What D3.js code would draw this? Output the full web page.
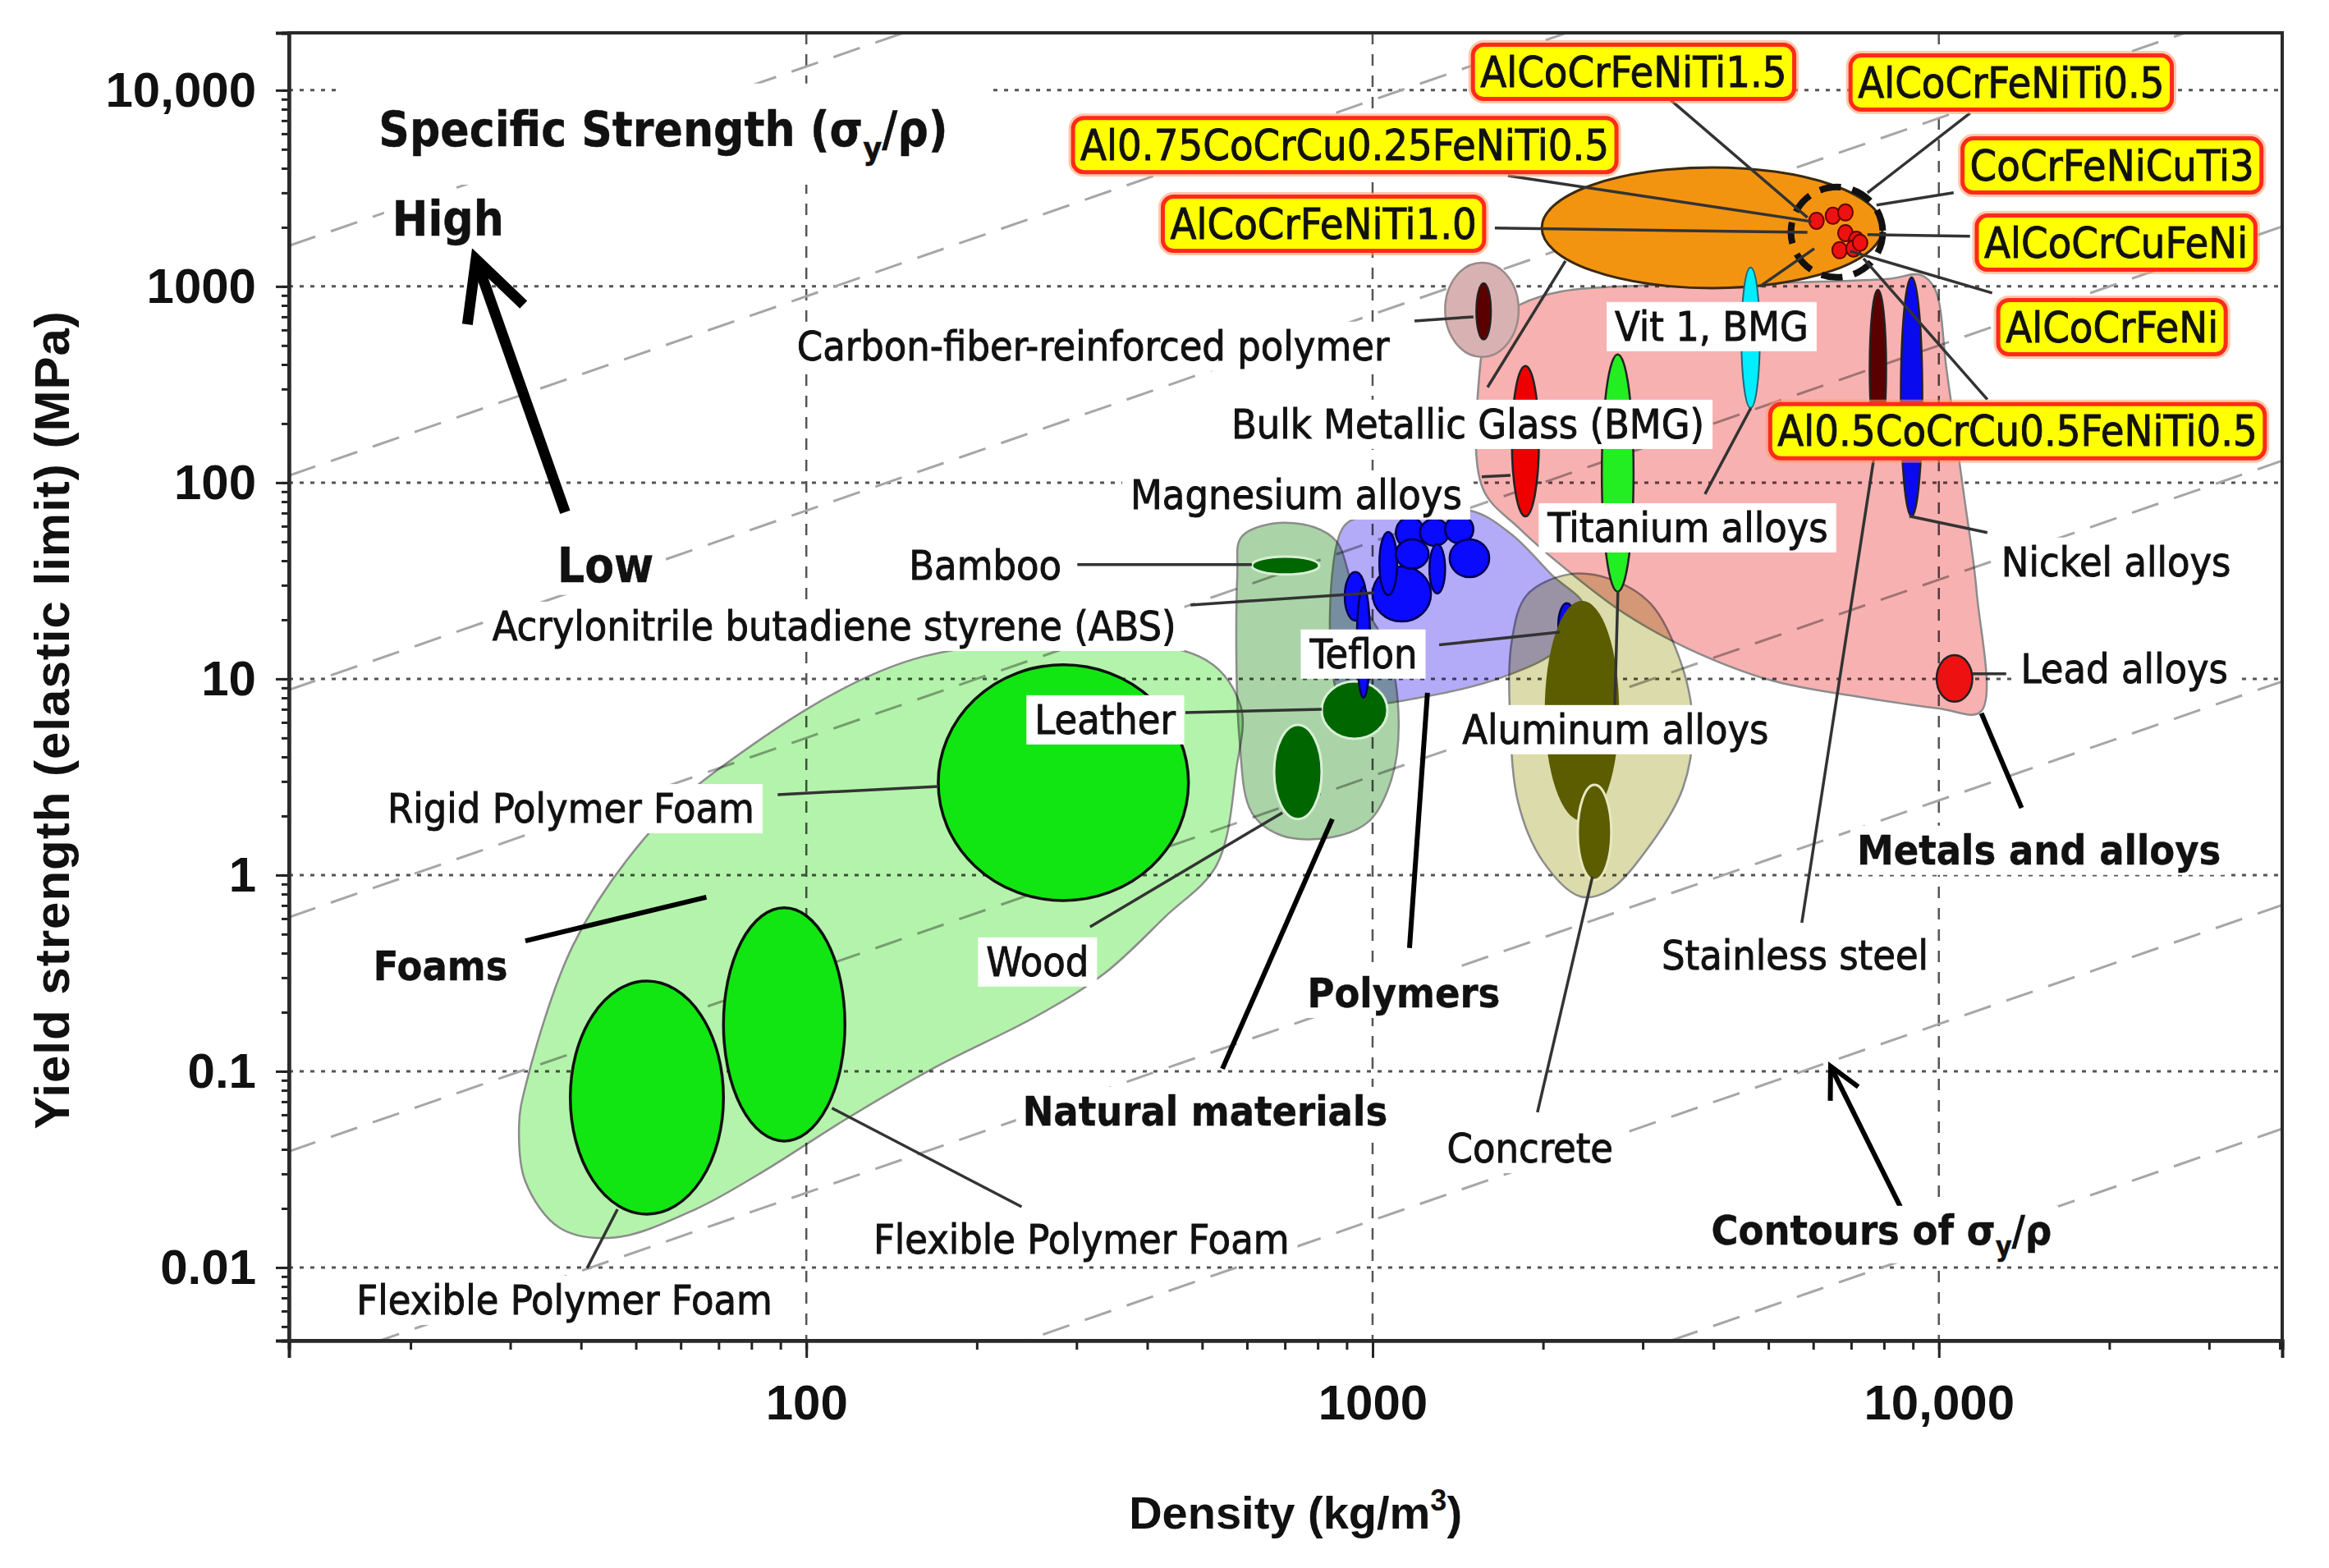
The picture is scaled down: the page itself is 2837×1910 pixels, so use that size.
<!DOCTYPE html>
<html>
<head>
<meta charset="utf-8">
<script src="https://cdn.jsdelivr.net/npm/d3@7"></script>
<style>
  body { margin: 0; background: #fff; }
  text { font-family: "DejaVu Sans Condensed", "DejaVu Sans", sans-serif; fill: #111; }
  .axis text { font-family: "Liberation Sans", Arial, sans-serif; font-weight: bold; fill: #111; }
</style>
</head>
<body>
<div id="chart"></div>
<script>

// ---------------- data (density kg/m3, yield strength MPa) ----------------

var densityDomain = [12.2, 40400];
var strengthDomain = [0.00424, 19600];

var xTickValues = [100, 1000, 10000];
var xTickLabels = ["100", "1000", "10,000"];
var yTickValues = [0.01, 0.1, 1, 10, 100, 1000, 10000];
var yTickLabels = ["0.01", "0.1", "1", "10", "100", "1000", "10,000"];

// sigma_y / rho of the dashed guide lines
var contourValues = [132, 8.9, 0.72, 0.050, 0.0032, 0.00024, 0.0000174, 0.00000126];

// material family envelopes [density, strength]
var foamsEnvelope = [[31.9,0.0834],[38.7,0.437],[51.1,1.47],[68.4,3.30],[161,13.0],[494,13.0],[584,7.35],[574,3.40],
  [530,1.12],[430,0.612],[336,0.315],[255,0.191],[168,0.104],[117,0.0566],[84,0.0309],[63.7,0.0198],
  [45.8,0.0142],[36.7,0.0159],[31.9,0.0275],[31.1,0.0535]];
var naturalEnvelope = [[577,34.0],[586,52.5],[666,61.8],[787,59.4],[864,50.0],[929,28.1],[1062,14.3],[1112,6.00],
  [1079,3.06],[987,1.89],[849,1.56],[691,1.59],[612,2.08],[582,4.95]];
var polymersEnvelope = [[883,57.8],[978,68.1],[1484,72.1],[1751,55.1],[2069,34.0],[2365,23.1],[2138,14.3],
  [1695,10.2],[1255,8.17],[961,7.42],[875,8.01]];
var ceramicEnvelope = [[1762,15.7],[1872,26.7],[2212,34.0],[2614,32.4],[3090,24.3],[3473,13.0],[3675,6.00],
  [3533,2.78],[3090,1.42],[2614,0.834],[2327,0.778],[2001,1.17],[1811,2.29],[1750,6.00]];
var metalsEnvelope = [[1538,312],[1617,635],[1824,809],[2162,944],[2988,1010],[4930,1039],[8130,1091],[9290,1145],
  [9840,971],[10330,367],[11090,84.1],[11660,27.8],[11860,6.81],[10000,7.07],[7110,8.16],[5060,9.82],
  [3600,14.3],[2795,21.4],[2274,33.4],[1824,57.8],[1565,93.6]];

// property bubbles: [name, density min, density max, strength min, strength max]
var foamCells = [
  ["Rigid Polymer Foam", 171, 473, 0.741, 11.8],
  ["Flexible Polymer Foam 1", 38.3, 71.4, 0.0187, 0.288],
  ["Flexible Polymer Foam 2", 71.4, 117, 0.0441, 0.681]
];
var naturalCells = [
  ["Bamboo", 612, 805, 34.0, 42.0],
  ["Leather", 813, 1062, 4.95, 9.70],
  ["Wood", 670, 813, 1.93, 5.83]
];
var polymerCells = [
  ["PE", 1099, 1233, 46.3, 66.7],
  ["PP", 1213, 1364, 47.6, 65.4],
  ["PC", 1343, 1507, 49.0, 68.1],
  ["PS", 1000, 1268, 19.6, 37.4],
  ["ABS", 893, 973, 19.8, 35.0],
  ["PA", 1028, 1105, 26.7, 56.1],
  ["PMMA", 1099, 1256, 36.4, 51.4],
  ["PVC", 1260, 1343, 27.2, 48.5],
  ["POM", 1368, 1607, 33.0, 51.4],
  ["LDPE", 938, 990, 8.01, 29.4],
  ["Teflon", 2128, 2281, 14.6, 24.3]
];
var alloyCells = [
  ["Aluminum alloys", 2014, 2725, 1.89, 25.0],
  ["Concrete", 2303, 2640, 0.944, 2.88],
  ["Magnesium alloys", 1762, 1967, 67.3, 393],
  ["Titanium alloys", 2540, 2890, 27.8, 450],
  ["Stainless steel", 7550, 8070, 151, 962],
  ["Nickel alloys", 8570, 9350, 67.3, 1112],
  ["Lead alloys", 9910, 11460, 7.64, 13.2]
];
var cfrpHalo = ["CFRP range", 1343, 1811, 437, 1322];
var cfrpCell = ["CFRP", 1524, 1619, 535, 1040];
var heaRange = ["High entropy alloys", 1990, 7960, 980, 4040];
var bmgCell = ["Vit 1, BMG", 4480, 4830, 240, 1250];
var heaCluster = ["HEA cluster", 5480, 7960, 1112, 3210];
var heaPoints = [[6080,2160],[6500,2290],[6840,2380],[6840,1870],[7150,1730],[6680,1530],[7070,1560],[7260,1670]];

// annotations: [text, density, strength] at the label centre
var heaLabels = [
  ["AlCoCrFeNiTi1.5", 2890, 12480],
  ["AlCoCrFeNiTi0.5", 13420, 11010],
  ["Al0.75CoCrCu0.25FeNiTi0.5", 893, 5290],
  ["CoCrFeNiCuTi3", 20220, 4160],
  ["AlCoCrFeNiTi1.0", 819, 2100],
  ["AlCoCrCuFeNi", 20560, 1682],
  ["AlCoCrFeNi", 20220, 624],
  ["Al0.5CoCrCu0.5FeNiTi0.5", 13770, 184]
];
var plainLabels = [
  ["Carbon-fiber-reinforced polymer", 321, 500],
  ["Bulk Metallic Glass (BMG)", 1473, 200],
  ["Vit 1, BMG", 3970, 630],
  ["Magnesium alloys", 733, 87.4],
  ["Titanium alloys", 3604, 59.4],
  ["Nickel alloys", 20560, 39.7],
  ["Lead alloys", 21270, 11.3],
  ["Bamboo", 207, 38.2],
  ["Acrylonitrile butadiene styrene (ABS)", 112, 18.7],
  ["Teflon", 964, 13.5],
  ["Leather", 337, 6.24],
  ["Rigid Polymer Foam", 38.4, 2.20],
  ["Wood", 256, 0.364],
  ["Aluminum alloys", 2685, 5.56],
  ["Concrete", 1897, 0.0408],
  ["Stainless steel", 5572, 0.393],
  ["Flexible Polymer Foam", 37.4, 0.00687],
  ["Flexible Polymer Foam", 306, 0.0140]
];
var boldLabels = [
  ["Foams", 22.6, 0.347],
  ["Natural materials", 506, 0.0630],
  ["Polymers", 1135, 0.252],
  ["Metals and alloys", 15020, 1.35],
  ["Contours of \u03c3_y/\u03c1", 7920, 0.0156]
];
var titleLabels = [
  ["Specific Strength (\u03c3_y/\u03c1)", 55.9, 6360],
  ["High", 23.3, 2225],
  ["Low", 44.2, 38.2]
];

// axis title anchors
var xTitleAt = 731;
var yTitleAt = 6.18;

// leader lines [from, to]
var leaders = [
  [[3360,8910],[5860,2245]], [[11350,7640],[7480,3000]], [[1734,3670],[5960,2140]],
  [[10620,3000],[7760,2595]], [[1644,1982],[5860,1888]], [[11350,1800],[7480,1836]],
  [[12420,926],[6970,1513]], [[12180,265],[7360,1388]],
  [[1186,667],[1507,700]], [[1596,306],[2191,1348]], [[4830,1000],[6025,1557]],
  [[3864,87.4],[4656,240]], [[1559,107],[1752,109]], [[5728,0.571],[7731,151]],
  [[12180,55.6],[8870,67.4]], [[13150,10.6],[11460,10.6]],
  [[301,38.2],[612,38.2]], [[477,23.8],[1007,27.5]], [[1311,14.9],[2140,17.3]],
  [[467,6.73],[813,7.00]], [[89.0,2.57],[171,2.83]], [[317,0.545],[693,2.08]],
  [[2677,7.21],[2712,28.0]], [[1955,0.0618],[2445,0.981]],
  [[41.0,0.00991],[46.4,0.0198]], [[240,0.0204],[111,0.0649]]
];
var familyLeaders = [
  [[14000,2.20],[11890,6.67]], [[31.9,0.462],[66.6,0.771]],
  [[543,0.103],[849,1.93]], [[1162,0.425],[1250,8.49]]
];
var strengthArrow = [[37.5,70.7],[26.1,1374]];
var contourArrow = [[8550,0.0204],[6440,0.106]];

// ---------------- colours ----------------
var envelopeFill = { foams: "#b4f3ab", natural: "#aad4a7", polymers: "#b3abf8", ceramic: "#dbdbab", metals: "#f7b1b1" };
var alloyFill = {
  "Aluminum alloys": "#5c5c00", "Concrete": "#5c5c00", "Magnesium alloys": "#ee0000",
  "Titanium alloys": "#22ee22", "Stainless steel": "#5a0000", "Nickel alloys": "#0a0aee", "Lead alloys": "#ee1111"
};

// ---------------- chart ----------------
var W = 2837, H = 1910;
var margin = { top: 40, right: 57, bottom: 277, left: 352 };
var width = W - margin.left - margin.right,
    height = H - margin.top - margin.bottom;

var svg = d3.select("#chart").append("svg")
    .attr("width", W)
    .attr("height", H)
    .style("background", "#fff");

var g = svg.append("g")
    .attr("transform", "translate(" + margin.left + "," + margin.top + ")");

var x = d3.scaleLog().domain(densityDomain).range([0, width]);
var y = d3.scaleLog().domain(strengthDomain).range([height, 0]);

svg.append("defs").append("clipPath").attr("id", "plot-clip")
  .append("rect").attr("width", width).attr("height", height);

var plot = g.append("g").attr("clip-path", "url(#plot-clip)");

// grid
plot.selectAll(".hgrid").data(yTickValues).enter().append("line")
    .attr("x1", 0).attr("x2", width)
    .attr("y1", function(d) { return y(d); })
    .attr("y2", function(d) { return y(d); })
    .attr("stroke", "#555").attr("stroke-width", 3).attr("stroke-dasharray", "5,8");
plot.selectAll(".vgrid").data(xTickValues).enter().append("line")
    .attr("y1", 0).attr("y2", height)
    .attr("x1", function(d) { return x(d); })
    .attr("x2", function(d) { return x(d); })
    .attr("stroke", "#555").attr("stroke-width", 2.5).attr("stroke-dasharray", "14,12");

// constant sigma/rho contours
plot.selectAll(".contour").data(contourValues).enter().append("line")
    .attr("x1", x(densityDomain[0])).attr("x2", x(densityDomain[1]))
    .attr("y1", function(c) { return y(c * densityDomain[0]); })
    .attr("y2", function(c) { return y(c * densityDomain[1]); })
    .attr("stroke", "#a6a6a6").attr("stroke-width", 3).attr("stroke-dasharray", "34,20");

// envelopes
var hull = d3.line()
    .x(function(d) { return x(d[0]); })
    .y(function(d) { return y(d[1]); })
    .curve(d3.curveCatmullRomClosed.alpha(0.5));

[[foamsEnvelope, "foams"], [naturalEnvelope, "natural"], [polymersEnvelope, "polymers"],
 [ceramicEnvelope, "ceramic"], [metalsEnvelope, "metals"]].forEach(function(e) {
  plot.append("path")
      .attr("d", hull(e[0]))
      .attr("fill", envelopeFill[e[1]])
      .attr("stroke", "#8c8c8c").attr("stroke-width", 2.5)
      .style("mix-blend-mode", "multiply");
});

function cell(sel, d) {
  var x0 = x(d[1]), x1 = x(d[2]), y0 = y(d[3]), y1 = y(d[4]);
  return sel.append("ellipse")
      .attr("cx", (x0 + x1) / 2).attr("cy", (y0 + y1) / 2)
      .attr("rx", Math.abs(x1 - x0) / 2).attr("ry", Math.abs(y0 - y1) / 2);
}

cell(plot, cfrpHalo).attr("fill", "#d8b2b2").attr("stroke", "#9a8a8a").attr("stroke-width", 2.5);
cell(plot, heaRange).attr("fill", "#f39410").attr("stroke", "#3a2a10").attr("stroke-width", 3);

foamCells.forEach(function(d) {
  cell(plot, d).attr("fill", "#12e612").attr("stroke", "#111").attr("stroke-width", 3.5);
});
naturalCells.forEach(function(d) {
  cell(plot, d).attr("fill", "#006600").attr("stroke", "#d9f0d6").attr("stroke-width", 3);
});
polymerCells.forEach(function(d) {
  cell(plot, d).attr("fill", "#0a0aff").attr("stroke", "#000050").attr("stroke-width", 2.5);
});
alloyCells.forEach(function(d) {
  var c = cell(plot, d).attr("fill", alloyFill[d[0]]);
  if (d[0] === "Concrete") c.attr("stroke", "#e8e8c0").attr("stroke-width", 3);
  else if (d[0] !== "Aluminum alloys") c.attr("stroke", "#222").attr("stroke-width", 2.5);
});
cell(plot, cfrpCell).attr("fill", "#5a0000").attr("stroke", "#222").attr("stroke-width", 2);
cell(plot, bmgCell).attr("fill", "#00eeff").attr("stroke", "#226677").attr("stroke-width", 2);

// high entropy alloy cluster
plot.selectAll(".hea").data(heaPoints).enter().append("ellipse")
    .attr("cx", function(d) { return x(d[0]); })
    .attr("cy", function(d) { return y(d[1]); })
    .attr("rx", 9).attr("ry", 10)
    .attr("fill", "#ee1111").attr("stroke", "#600").attr("stroke-width", 2);
cell(plot, heaCluster).attr("fill", "none").attr("stroke", "#111")
    .attr("stroke-width", 8).attr("stroke-dasharray", "26,14");

// leader lines
var link = d3.line().x(function(d) { return x(d[0]); }).y(function(d) { return y(d[1]); });
g.selectAll(".leader").data(leaders).enter().append("path")
    .attr("d", link).attr("stroke", "#333").attr("stroke-width", 3.5).attr("fill", "none");
g.selectAll(".family-leader").data(familyLeaders).enter().append("path")
    .attr("d", link).attr("stroke", "#000").attr("stroke-width", 6).attr("fill", "none");

function arrow(pts, w, head) {
  var x0 = x(pts[0][0]), y0 = y(pts[0][1]), x1 = x(pts[1][0]), y1 = y(pts[1][1]);
  var a = Math.atan2(y0 - y1, x0 - x1), s = 0.47;
  g.append("line").attr("x1", x0).attr("y1", y0).attr("x2", x1).attr("y2", y1)
      .attr("stroke", "#000").attr("stroke-width", w);
  g.append("path")
      .attr("d", "M" + (x1 + head * Math.cos(a - s)) + "," + (y1 + head * Math.sin(a - s)) +
                 "L" + x1 + "," + y1 +
                 "L" + (x1 + head * Math.cos(a + s)) + "," + (y1 + head * Math.sin(a + s)))
      .attr("fill", "none").attr("stroke", "#000").attr("stroke-width", w)
      .attr("stroke-linejoin", "miter").attr("stroke-linecap", "butt");
}
arrow(strengthArrow, 13, 80);
arrow(contourArrow, 6, 42);

// labels
function writeText(t, str, size) {
  var parts = str.split("_y");
  t.append("tspan").text(parts[0]);
  if (parts.length > 1) {
    t.append("tspan").attr("dy", size * 0.28).attr("font-size", size * 0.68).text("y");
    t.append("tspan").attr("dy", -size * 0.28).text(parts[1]);
  }
}

function label(d, cfg) {
  var lg = g.append("g").attr("transform", "translate(" + x(d[1]) + "," + y(d[2]) + ")");
  var glow = lg.append("rect"), box = lg.append("rect");
  var t = lg.append("text")
      .attr("text-anchor", "middle")
      .attr("y", cfg.size * 0.36)
      .attr("font-size", cfg.size)
      .attr("font-weight", cfg.weight || "normal")
      .attr("stroke", "#111").attr("stroke-width", cfg.weight ? 0.4 : 0.9);
  writeText(t, d[0], cfg.size);
  var bb = t.node().getBBox();
  [box, glow].forEach(function(r) {
    r.attr("x", bb.x - cfg.padX).attr("y", bb.y - cfg.padY)
     .attr("width", bb.width + 2 * cfg.padX).attr("height", bb.height + 2 * cfg.padY)
     .attr("rx", cfg.rx || 0);
  });
  box.attr("fill", cfg.fill).attr("stroke", cfg.stroke || "none").attr("stroke-width", cfg.strokeWidth || 0);
  if (cfg.glow) glow.attr("fill", "none").attr("stroke", cfg.glow).attr("stroke-width", 11).attr("opacity", 0.55);
  else glow.remove();
}

plainLabels.forEach(function(d) { label(d, { size: 50, padX: 10, padY: 1, fill: "#fff" }); });
boldLabels.forEach(function(d) { label(d, { size: 50, weight: "bold", padX: 8, padY: 1, fill: "#fff" }); });
titleLabels.forEach(function(d, i) {
  label(d, { size: 58, weight: "bold", padX: i === 0 ? 48 : 10, padY: i === 0 ? 22 : 2, fill: "#fff" });
});
heaLabels.forEach(function(d) {
  label(d, { size: 52, padX: 9, padY: 3, fill: "#ffff00", stroke: "#ff2a1a", strokeWidth: 5, rx: 13, glow: "#ff9a6a" });
});

// axes
g.append("g").attr("class", "axis")
    .attr("transform", "translate(0," + height + ")")
    .call(d3.axisBottom(x).tickValues(x.ticks()).tickSize(11).tickFormat(""));
g.append("g").attr("class", "axis")
    .attr("transform", "translate(0," + height + ")")
    .call(d3.axisBottom(x).tickValues(xTickValues).tickSize(21).tickPadding(32)
      .tickFormat(function(d, i) { return xTickLabels[i]; }));
g.append("g").attr("class", "axis")
    .call(d3.axisLeft(y).tickValues(y.ticks()).tickSize(9).tickFormat(""));
g.append("g").attr("class", "axis")
    .call(d3.axisLeft(y).tickValues(yTickValues).tickSize(16).tickPadding(24)
      .tickFormat(function(d, i) { return yTickLabels[i]; }));

g.selectAll(".axis text").attr("font-size", 60);
g.selectAll(".axis line").attr("stroke", "#222").attr("stroke-width", 3);
g.selectAll(".axis path").attr("stroke", "#222").attr("stroke-width", 4);

g.append("rect").attr("width", width).attr("height", height)
    .attr("fill", "none").attr("stroke", "#2a2a2a").attr("stroke-width", 4);

// axis titles
var xt = svg.append("text")
    .attr("x", margin.left + x(xTitleAt)).attr("y", 1862)
    .attr("text-anchor", "middle")
    .style("font-family", "'Liberation Sans', Arial, sans-serif")
    .attr("font-weight", "bold").attr("font-size", 56);
xt.append("tspan").text("Density (kg/m");
xt.append("tspan").attr("dy", -22).attr("font-size", 36).text("3");
xt.append("tspan").attr("dy", 22).text(")");

svg.append("text")
    .attr("transform", "translate(84," + (margin.top + y(yTitleAt)) + ") rotate(-90)")
    .attr("text-anchor", "middle")
    .style("font-family", "'Liberation Sans', Arial, sans-serif")
    .attr("font-weight", "bold").attr("font-size", 60)
    .attr("letter-spacing", 1)
    .text("Yield strength (elastic limit) (MPa)");

</script>
</body>
</html>
